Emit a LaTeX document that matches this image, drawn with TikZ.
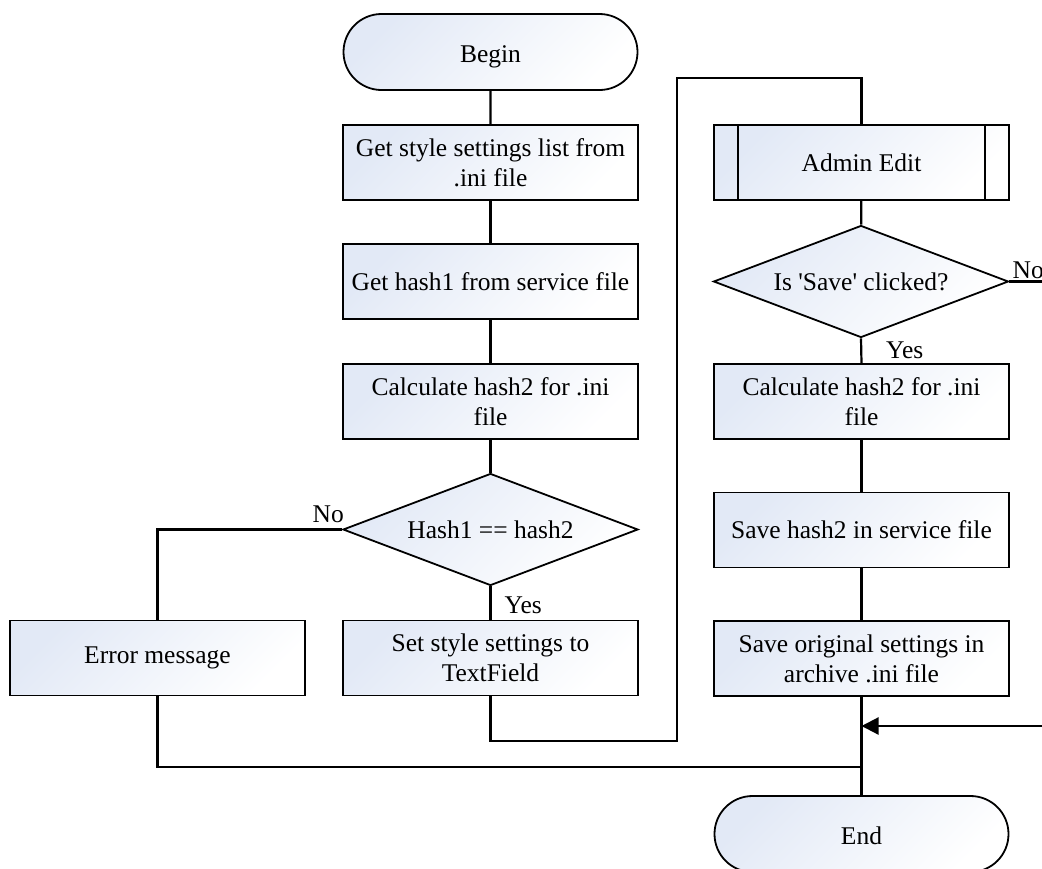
\documentclass[tikz,border=0pt]{standalone}
\usepackage{fontspec}
\setmainfont{Liberation Serif}
\usetikzlibrary{shapes.geometric,shapes.misc,arrows.meta}
\newcommand\flowfont{\fontsize{25.5}{30}\selectfont}
\definecolor{shadeblue}{RGB}{226,233,246}
\tikzset{
  shapebase/.style={draw, line width=1.8pt, inner sep=0pt, align=center, font=\flowfont,
    top color=shadeblue, bottom color=white, shading angle=45},
  procbox/.style={shapebase, rectangle, minimum width=295pt, minimum height=75pt},
  termbox/.style={shapebase, rounded rectangle, minimum width=294pt, minimum height=76pt},
  decbox/.style={shapebase, diamond, aspect=2.63, minimum width=295pt, minimum height=112pt},
  conn/.style={line width=2.2pt},
  lbl/.style={inner sep=0pt, font=\flowfont}
}
\begin{document}
\begin{tikzpicture}[x=1pt,y=-1pt]
\useasboundingbox (0,0) rectangle (1042,868);
% left column
\node[termbox] (begin) at (490.5,52) {\raisebox{-10.5pt}[0pt][0pt]{Begin}};
\node[procbox] (b1) at (490.5,162.5) {Get style settings list from\\.ini file};
\node[procbox] (b2) at (490.5,281.5) {Get hash1 from service file};
\node[procbox] (b3) at (490.5,401.5) {Calculate hash2 for .ini\\file};
\node[decbox] (d1) at (490.5,529.5) {Hash1 == hash2};
\node[procbox] (b4) at (490.5,658) {Set style settings to\\TextField};
\node[procbox] (err) at (157.5,658) {Error message};
% right column
\node[procbox] (admin) at (861.5,162.5) {Admin Edit};
\draw[line width=1.8pt] ([xshift=25pt]admin.north west) -- ([xshift=25pt]admin.south west);
\draw[line width=1.8pt] ([xshift=-25pt]admin.north east) -- ([xshift=-25pt]admin.south east);
\node[decbox] (d2) at (861,281.5) {Is \textquotesingle Save\textquotesingle\ clicked?};
\node[procbox] (c2) at (861.5,401.5) {Calculate hash2 for .ini\\file};
\node[procbox] (s1) at (861.5,530) {Save hash2 in service file};
\node[procbox] (s2) at (861.5,658.5) {Save original settings in\\archive .ini file};
\node[termbox] (end) at (861.5,834) {\raisebox{-10pt}[0pt][0pt]{End}};
% helper coordinates
\coordinate (r1) at (677,741);
\coordinate (r2) at (677,78);
\coordinate (noR) at (1042,281.5);
\coordinate (inR) at (1042,726);
\coordinate (j2) at (861.5,767);
% connectors
\draw[conn] (begin) -- (b1);
\draw[conn] (b1) -- (b2);
\draw[conn] (b2) -- (b3);
\draw[conn] (b3) -- (d1);
\draw[conn] (d1.south) -- (b4.north);
\node[lbl, anchor=base west] (yes1) at ([shift={(14,27)}]d1.south) {Yes};
\draw[conn] (d1.west) -| (err.north);
\node[lbl, anchor=base east] (no1) at ([shift={(2,-7)}]d1.west) {No};
\draw[conn] (b4.south) |- (r1) -- (r2) -| (admin.north);
\draw[conn] (admin) -- (d2);
\draw[conn] (d2.south) -- (c2.north);
\node[lbl, anchor=base west] (yes2) at ([shift={(25,20)}]d2.south) {Yes};
\draw[conn] (d2.east) -- (noR);
\node[lbl, anchor=base west] (no2) at ([shift={(3,-3)}]d2.east) {No};
\draw[conn] (c2) -- (s1);
\draw[conn] (s1) -- (s2);
\draw[conn] (s2.south) -- (end.north);
\draw[conn, -{Triangle[length=17pt,width=17pt]}] (inR) -- (s2.south |- inR);
\draw[conn] (err.south) |- (j2);
\end{tikzpicture}
\end{document}
